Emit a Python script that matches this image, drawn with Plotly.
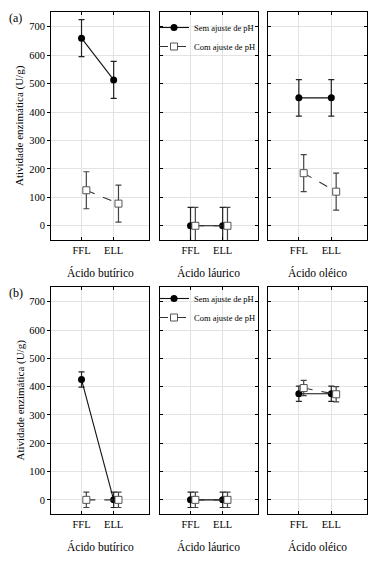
import plotly.graph_objects as go

categories = ["FFL", "ELL"]
acids = ["Ácido butírico", "Ácido láurico", "Ácido oléico"]
series_names = ["Sem ajuste de pH", "Com ajuste de pH"]
y_ticks = [0, 100, 200, 300, 400, 500, 600, 700]

# (a) values per acid: [FFL, ELL]
sem_a = [[660, 513], [0, 0], [450, 450]]
com_a = [[125, 78], [0, 0], [185, 120]]
err_a_sem = [[65, 65], [65, 65], [64, 64]]
err_a_com = [[65, 65], [65, 65], [65, 65]]

# (b)
sem_b = [[425, 0], [0, 0], [375, 375]]
com_b = [[0, 0], [0, 0], [395, 373]]
err_b_sem = [[27, 27], [27, 27], [27, 27]]
err_b_com = [[27, 27], [27, 27], [27, 27]]

W, H = 383, 563
FONT = "'Liberation Serif', 'DejaVu Serif', serif"

x_dom = [(51, 149), (160, 258), (268, 367)]
y_dom = [(12, 240), (287, 514)]  # pixel top, bottom

fig = go.Figure()

def px_x(p):
    return p / W

def px_y(p):
    return 1 - p / H

offset = 0.15
xbase = [0, 1]

rows = [(sem_a, com_a, err_a_sem, err_a_com), (sem_b, com_b, err_b_sem, err_b_com)]
for r, (sem, com, es, ec) in enumerate(rows):
    for c in range(3):
        idx = r * 3 + c + 1
        xa = "x" if idx == 1 else f"x{idx}"
        ya = "y" if idx == 1 else f"y{idx}"
        legend_name = "legend" if r == 0 else "legend2"
        show = (c == 1)
        fig.add_trace(go.Scatter(
            x=xbase, y=sem[c], xaxis=xa, yaxis=ya,
            mode="lines+markers", name=series_names[0],
            line=dict(color="#111111", width=1.1),
            marker=dict(symbol="circle", size=7, color="#000000"),
            error_y=dict(type="data", array=es[c], color="#222222", thickness=1.2, width=3),
            showlegend=show, legend=legend_name, hoverinfo="skip"))
        fig.add_trace(go.Scatter(
            x=[v + offset for v in xbase], y=com[c], xaxis=xa, yaxis=ya,
            mode="lines+markers", name=series_names[1],
            line=dict(color="#333333", width=1.1, dash="dash"),
            marker=dict(symbol="square", size=7, color="white",
                        line=dict(color="#555555", width=1)),
            error_y=dict(type="data", array=ec[c], color="#444444", thickness=1.2, width=3),
            showlegend=show, legend=legend_name, hoverinfo="skip"))

        xkey = "xaxis" if idx == 1 else f"xaxis{idx}"
        ykey = "yaxis" if idx == 1 else f"yaxis{idx}"
        fig.layout[xkey] = dict(
            domain=[px_x(x_dom[c][0]), px_x(x_dom[c][1])], anchor=ya,
            range=[-0.95, 2.1], tickvals=xbase, ticktext=categories,
            showline=True, linecolor="black", linewidth=1, mirror="ticks",
            ticks="inside", ticklen=3, tickcolor="black",
            showgrid=True, gridcolor="#e3e3e3", gridwidth=1, zeroline=False,
            tickfont=dict(family=FONT, size=10.5, color="black"), fixedrange=True)
        fig.layout[ykey] = dict(
            domain=[px_y(y_dom[r][1]), px_y(y_dom[r][0])], anchor=xa,
            range=[-50, 752], tickvals=y_ticks,
            showline=True, linecolor="black", linewidth=1,
            mirror=True if c == 0 else "ticks",
            ticks="outside" if c == 0 else "inside", ticklen=3, tickcolor="black",
            showticklabels=(c == 0),
            showgrid=True, gridcolor="#e3e3e3", gridwidth=1, zeroline=False,
            tickfont=dict(family=FONT, size=10.5, color="black"), fixedrange=True)

annotations = []
for r, label in enumerate(["(a)", "(b)"]):
    annotations.append(dict(text=label, x=px_x(7), y=px_y(y_dom[r][0] + 6), xref="paper", yref="paper",
                            xanchor="left", yanchor="middle", showarrow=False,
                            font=dict(family=FONT, size=12, color="black")))
    annotations.append(dict(text="Atividade enzimática (U/g)", x=px_x(20),
                            y=px_y((y_dom[r][0] + y_dom[r][1]) / 2), xref="paper", yref="paper",
                            textangle=-90, showarrow=False, xanchor="center", yanchor="middle",
                            font=dict(family=FONT, size=11, color="black")))
    for c in range(3):
        annotations.append(dict(text=acids[c], x=px_x((x_dom[c][0] + x_dom[c][1]) / 2),
                                y=px_y(y_dom[r][1] + 32), xref="paper", yref="paper",
                                showarrow=False, xanchor="center", yanchor="middle",
                                font=dict(family=FONT, size=11.5, color="black")))

leg_common = dict(xanchor="left", yanchor="top", bgcolor="rgba(0,0,0,0)",
                  font=dict(family=FONT, size=8.5, color="black"),
                  itemwidth=30, tracegroupgap=0, borderwidth=0)
fig.update_layout(
    width=W, height=H, margin=dict(l=0, r=0, t=0, b=0),
    paper_bgcolor="white", plot_bgcolor="white",
    showlegend=True,
    legend=dict(x=px_x(154), y=px_y(13), **leg_common),
    legend2=dict(x=px_x(154), y=px_y(284), **leg_common),
    annotations=annotations,
)

fig.write_html("out.html", config={"displayModeBar": False},
               post_script="document.body.style.margin='0';")
